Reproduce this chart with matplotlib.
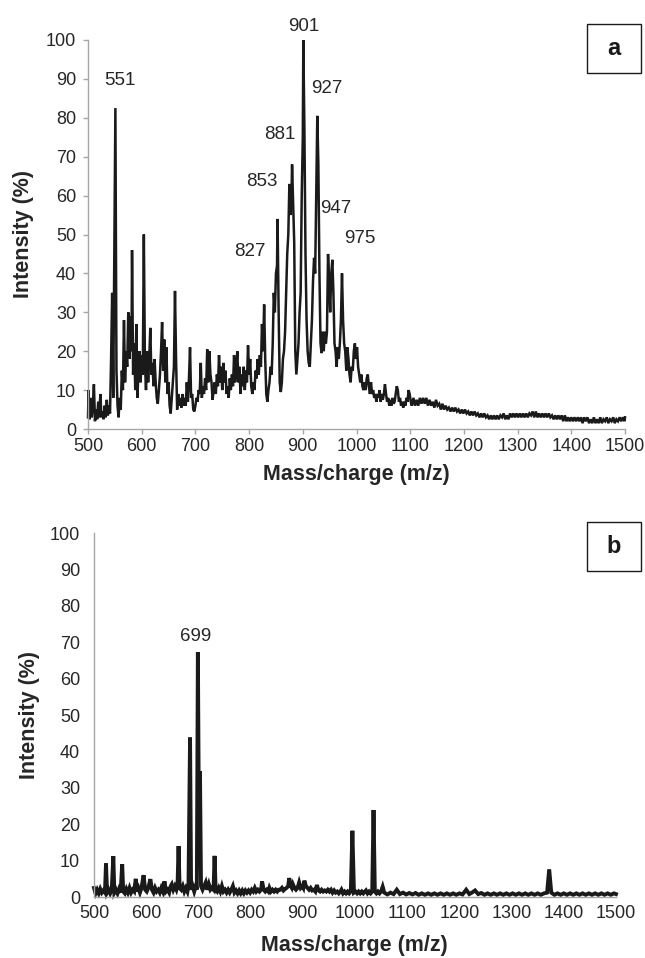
"""
Espectros de masas (a) y (b): intensidad relativa frente a m/z.
"""
import matplotlib
matplotlib.use("Agg")
import matplotlib.pyplot as plt
from matplotlib.patches import Rectangle

plt.rcParams["font.family"] = ["Liberation Sans", "DejaVu Sans"]

# --- datos: (m/z, intensidad %) ---
espectro_a = [
    (500, 3), (501, 10), (503, 2.5), (505, 8), (507, 3), (509, 6), (511, 11.5), (513, 2),
    (515, 5), (517, 2.5), (519, 7), (521, 3), (523, 9), (525, 3), (527, 4.5), (529, 2.5),
    (531, 6), (533, 3), (535, 7.5), (537, 3.5), (539, 6), (541, 4), (543, 18), (545, 35),
    (547, 8), (549, 45), (551, 82.5), (553, 15), (555, 6), (557, 3), (559, 8), (561, 5),
    (563, 15), (565, 10), (567, 28), (569, 12), (571, 20), (573, 16), (575, 30), (577, 18),
    (579, 29), (581, 20), (582, 46), (584, 14), (586, 22), (588, 10), (590, 27), (592, 8),
    (594, 15), (596, 20), (598, 12), (600, 19), (602, 14), (604, 50), (606, 17), (608, 10),
    (610, 20), (612, 12), (614, 18), (616, 26), (618, 14), (620, 17), (622, 11), (624, 18),
    (626, 12), (628, 8), (630, 6.5), (632, 10), (634, 14), (636, 20), (638, 27.5), (640, 15),
    (642, 23), (644, 12), (646, 21), (648, 9), (650, 12), (652, 6), (654, 4), (656, 8),
    (658, 12), (660, 16), (662, 35.5), (664, 18), (666, 5), (668, 9), (670, 6), (672, 8),
    (674, 5.5), (676, 9), (678, 6), (680, 8), (682, 6), (684, 12), (686, 7), (688, 13),
    (690, 21), (692, 8), (694, 9), (696, 5), (698, 4.5), (700, 6), (702, 8), (704, 7),
    (706, 10), (708, 9), (710, 17), (712, 8), (714, 11), (716, 9), (718, 13), (720, 10),
    (722, 20.5), (724, 12), (726, 20), (728, 14), (730, 12), (732, 7.5), (734, 10), (736, 12),
    (738, 9), (740, 14), (742, 11), (744, 19), (746, 12), (748, 16), (750, 10), (752, 17),
    (754, 12), (756, 15), (758, 9), (760, 11), (762, 8), (764, 13), (766, 10), (768, 14),
    (770, 11), (772, 19), (774, 12), (776, 15), (778, 20), (780, 12), (782, 16), (784, 9),
    (786, 14), (788, 11), (790, 16), (792, 10), (794, 15), (796, 12), (798, 21.5), (800, 14),
    (802, 18), (804, 11), (806, 9), (808, 12), (810, 10), (812, 15), (814, 13), (816, 18),
    (818, 14), (820, 19), (822, 16), (824, 27), (826, 20), (828, 32), (830, 18), (832, 9),
    (834, 7), (836, 10), (838, 12), (840, 16), (842, 14), (844, 22), (846, 35), (848, 30),
    (850, 40), (852, 42), (853, 54), (855, 30), (857, 12), (859, 9.5), (861, 12), (863, 18),
    (865, 20), (867, 25), (869, 35), (871, 45), (873, 50), (875, 63), (877, 55), (879, 60),
    (880, 68), (882, 58), (884, 48), (886, 20), (888, 14), (890, 18), (892, 22), (894, 30),
    (896, 35), (898, 60), (900, 75), (901, 100), (903, 77), (905, 45), (907, 28), (909, 20),
    (911, 17), (913, 16), (915, 22), (917, 28), (919, 38), (921, 44), (923, 40), (925, 60),
    (927, 80.5), (929, 68), (931, 40), (933, 22), (935, 19.5), (937, 25), (939, 20), (941, 25),
    (943, 22), (945, 25), (947, 45), (949, 38), (951, 30), (953, 40), (955, 43.5), (957, 35),
    (959, 22), (961, 20), (963, 16), (965, 21), (967, 18), (969, 22), (971, 28), (973, 40),
    (975, 28), (977, 22), (979, 20), (981, 15), (983, 21), (985, 18), (987, 14), (989, 12),
    (991, 16), (993, 15), (995, 20), (997, 22), (999, 18), (1001, 21), (1003, 16), (1005, 14),
    (1007, 12), (1009, 14), (1011, 11), (1013, 10), (1015, 12), (1017, 10), (1019, 13), (1021, 14),
    (1023, 11), (1025, 9), (1027, 12), (1029, 9), (1031, 10), (1033, 8), (1035, 9), (1037, 7),
    (1039, 9), (1041, 8), (1043, 10), (1045, 7), (1047, 9), (1049, 7.5), (1051, 9), (1053, 11.5),
    (1055, 9), (1057, 7), (1059, 8), (1061, 6), (1063, 7.5), (1065, 6), (1067, 8), (1069, 6.5),
    (1071, 7), (1073, 9), (1075, 11), (1077, 10), (1079, 7), (1081, 8), (1083, 6), (1085, 7),
    (1087, 5.5), (1089, 7), (1091, 6), (1093, 8), (1095, 7), (1097, 10), (1099, 9), (1101, 7),
    (1103, 6), (1106, 8), (1109, 6), (1112, 7.5), (1115, 6), (1118, 8), (1121, 6.5), (1124, 8),
    (1127, 6.5), (1130, 8), (1133, 6), (1136, 7.5), (1139, 6), (1142, 7), (1145, 5.5), (1148, 7.5),
    (1151, 6), (1154, 6.5), (1157, 5), (1160, 6.5), (1163, 5), (1166, 6), (1169, 5), (1172, 5.5),
    (1175, 4.5), (1178, 5.5), (1181, 4.5), (1184, 5.5), (1187, 4.5), (1190, 5), (1193, 4), (1196, 5),
    (1199, 4), (1202, 5), (1205, 4), (1208, 4.5), (1211, 3.5), (1214, 4.5), (1217, 3.5), (1220, 4.5),
    (1223, 3.5), (1226, 4), (1229, 3), (1232, 4), (1235, 3), (1238, 4), (1241, 3), (1244, 3.5),
    (1247, 2.5), (1250, 3.5), (1253, 2.5), (1256, 3.5), (1259, 2.5), (1262, 3.5), (1265, 2.5), (1268, 3.5),
    (1271, 3), (1274, 4), (1277, 2.5), (1280, 3.5), (1283, 2.5), (1286, 4), (1289, 3), (1292, 4),
    (1295, 3), (1298, 4), (1301, 3), (1304, 4), (1307, 3), (1310, 4), (1313, 3), (1316, 4),
    (1319, 3), (1322, 4), (1325, 3.5), (1328, 4.5), (1331, 3), (1334, 4.5), (1337, 3), (1340, 4),
    (1343, 3), (1346, 4), (1349, 3), (1352, 4), (1355, 3), (1358, 4), (1361, 3), (1364, 3.5),
    (1367, 2.5), (1370, 3.5), (1373, 2.5), (1376, 3.5), (1379, 2.5), (1382, 3.5), (1385, 2), (1388, 3.5),
    (1391, 2), (1394, 3), (1397, 2), (1400, 3), (1403, 2), (1406, 3), (1409, 2), (1412, 3),
    (1415, 2), (1418, 3), (1421, 1.5), (1424, 3), (1427, 2), (1430, 3), (1433, 1.5), (1436, 2.5),
    (1439, 1.5), (1442, 3), (1445, 1.5), (1448, 2.5), (1451, 1.5), (1454, 3), (1457, 1.5), (1460, 2.5),
    (1463, 2), (1466, 3), (1469, 1.5), (1472, 2.5), (1475, 2), (1478, 3), (1481, 1.5), (1484, 2.5),
    (1487, 2), (1490, 3), (1493, 2), (1496, 3), (1499, 2), (1500, 3),
]

espectro_b = [
    (500, 2.5), (503, 1.0), (506, 2.0), (509, 1.0), (512, 2.2), (515, 1.2), (518, 1.8), (521, 1.2),
    (523, 9.2), (525, 1.2), (528, 2.0), (531, 1.0), (534, 2.0), (537, 11.2), (539, 1.2), (542, 2.0),
    (545, 1.0), (548, 2.2), (551, 1.2), (554, 9.0), (556, 1.5), (559, 1.0), (562, 2.2), (565, 1.2),
    (568, 2.5), (571, 1.2), (574, 2.0), (577, 1.5), (580, 5.0), (582, 1.5), (585, 2.5), (588, 1.2),
    (591, 2.5), (595, 6.0), (598, 2.0), (601, 1.5), (604, 2.5), (608, 4.9), (611, 2.0), (614, 1.2),
    (617, 2.5), (620, 1.5), (623, 2.0), (626, 1.2), (629, 2.5), (632, 1.5), (635, 4.3), (638, 1.5),
    (641, 2.0), (644, 1.2), (647, 3.0), (649, 3.5), (652, 2.0), (655, 3.0), (658, 2.0), (660, 3.0),
    (662, 14.0), (664, 2.5), (667, 2.0), (670, 3.0), (673, 1.5), (676, 2.5), (679, 1.5), (681, 3.0),
    (684, 43.8), (686, 2.0), (689, 3.0), (692, 1.5), (695, 3.0), (697, 2.0), (699, 67.2), (701, 20.0),
    (703, 34.6), (705, 3.0), (708, 2.0), (711, 3.0), (714, 4.0), (717, 2.0), (720, 3.5), (723, 2.0),
    (726, 2.5), (729, 2.0), (731, 11.3), (733, 2.0), (736, 1.5), (739, 2.5), (742, 1.5), (745, 3.0),
    (748, 1.5), (751, 2.0), (754, 1.2), (757, 2.0), (760, 1.2), (763, 2.0), (766, 3.0), (769, 1.2),
    (772, 1.8), (775, 1.0), (778, 1.8), (781, 1.0), (784, 1.8), (787, 1.0), (790, 1.8), (793, 1.2),
    (796, 1.8), (799, 1.2), (802, 2.0), (805, 1.5), (808, 2.5), (811, 1.5), (814, 2.0), (817, 1.5),
    (820, 2.0), (822, 4.3), (825, 2.0), (828, 1.5), (831, 2.0), (834, 1.5), (836, 2.5), (839, 1.5),
    (842, 2.0), (845, 1.5), (848, 2.0), (851, 1.5), (854, 2.0), (857, 2.0), (860, 2.5), (863, 1.8),
    (866, 2.2), (869, 2.5), (872, 3.0), (874, 5.2), (877, 3.0), (879, 2.5), (881, 3.5), (884, 2.5),
    (887, 2.0), (890, 2.5), (893, 4.0), (896, 2.5), (899, 3.0), (901, 2.5), (903, 4.5), (906, 3.0),
    (909, 2.5), (912, 2.0), (915, 2.5), (918, 1.8), (921, 2.0), (924, 1.5), (927, 3.3), (930, 1.8),
    (933, 1.5), (936, 2.0), (939, 1.5), (942, 1.8), (945, 1.5), (948, 2.0), (951, 1.5), (954, 2.0),
    (957, 1.2), (960, 1.8), (963, 1.2), (966, 1.5), (969, 1.0), (972, 1.5), (974, 2.0), (977, 1.0),
    (980, 1.5), (983, 1.0), (986, 1.5), (989, 1.0), (992, 1.5), (995, 18.2), (998, 1.2), (1001, 1.5),
    (1004, 1.0), (1007, 1.5), (1010, 1.0), (1013, 1.5), (1016, 1.0), (1019, 1.5), (1021, 1.8), (1024, 1.0),
    (1027, 1.5), (1030, 1.0), (1033, 1.5), (1035.5, 23.9), (1038, 1.5), (1041, 1.0), (1044, 1.5), (1047, 1.0),
    (1050, 1.5), (1053, 2.8), (1056, 1.2), (1062, 0.7), (1068, 1.2), (1074, 0.8), (1080, 2.0), (1086, 0.8),
    (1092, 1.2), (1098, 0.7), (1104, 1.1), (1110, 0.7), (1116, 1.1), (1122, 0.6), (1128, 1.0), (1134, 0.6),
    (1140, 1.0), (1146, 0.6), (1152, 1.0), (1158, 0.6), (1164, 1.0), (1170, 0.6), (1176, 1.0), (1182, 0.6),
    (1188, 1.0), (1194, 0.6), (1200, 1.0), (1206, 0.7), (1213, 2.0), (1219, 0.8), (1224, 1.2), (1230, 1.8),
    (1236, 0.8), (1242, 1.1), (1248, 0.6), (1254, 1.0), (1260, 0.6), (1266, 1.0), (1272, 0.6), (1278, 1.0),
    (1284, 0.6), (1290, 1.0), (1296, 0.6), (1302, 1.0), (1308, 0.6), (1314, 1.0), (1320, 0.6), (1326, 1.0),
    (1332, 0.6), (1338, 1.0), (1344, 0.6), (1350, 1.0), (1356, 0.6), (1362, 1.0), (1368, 1.2), (1372, 7.6),
    (1376, 1.2), (1382, 0.6), (1388, 1.0), (1394, 0.6), (1400, 1.0), (1406, 0.6), (1412, 1.0), (1418, 0.6),
    (1424, 1.0), (1430, 0.6), (1436, 1.0), (1442, 0.6), (1448, 1.0), (1454, 0.6), (1460, 1.0), (1466, 0.6),
    (1472, 1.0), (1478, 0.6), (1484, 1.0), (1490, 0.6), (1496, 1.0), (1500, 0.8),
]

# etiquetas de picos: (texto, m/z, intensidad donde va el texto)
picos_a = [("551", 559, 89.5), ("901", 902, 103.5), ("927", 944, 87.5), ("881", 858, 75.8),
           ("853", 824, 63.7), ("947", 961, 56.6), ("827", 801, 45.7), ("975", 1006, 49.1)]
picos_b = [("699", 694, 71.6)]

x_ticks = [500, 600, 700, 800, 900, 1000, 1100, 1200, 1300, 1400, 1500]
y_ticks = [0, 10, 20, 30, 40, 50, 60, 70, 80, 90, 100]

GRIS = "#a6a6a6"
NEGRO = "#1a1a1a"
TEXTO = "#262626"

W, H = 645, 958
fig = plt.figure(figsize=(W / 100, H / 100), dpi=100)


def px_axes(x0, x1, y_top, y_bot):
    return [x0 / W, 1 - y_bot / H, (x1 - x0) / W, (y_bot - y_top) / H]


def dibujar(ax, espectro, picos, lw, con_ticks, pad_y, pad_x):
    mz = [p[0] for p in espectro]
    inten = [p[1] for p in espectro]
    ax.plot(mz, inten, color=NEGRO, lw=lw, solid_joinstyle="miter", clip_on=False)
    ax.set_xlim(500, 1500)
    ax.set_ylim(0, 100)
    ax.set_xticks(x_ticks)
    ax.set_yticks(y_ticks)
    for s in ["top", "right"]:
        ax.spines[s].set_visible(False)
    for s in ["left", "bottom"]:
        ax.spines[s].set_color(GRIS)
        ax.spines[s].set_linewidth(1.0)
    largo = 3.6 if con_ticks else 0
    ax.tick_params(axis="y", direction="out", length=largo, width=1.0, color=GRIS,
                   labelsize=13, labelcolor=TEXTO, pad=pad_y)
    ax.tick_params(axis="x", direction="out", length=largo, width=1.0, color=GRIS,
                   labelsize=13, labelcolor=TEXTO, pad=pad_x)
    for texto, x, y in picos:
        ax.text(x, y, texto, ha="center", va="center", fontsize=13.5, color=TEXTO, clip_on=False)


ax_a = fig.add_axes(px_axes(88, 625, 40, 429))
dibujar(ax_a, espectro_a, picos_a, lw=1.8, con_ticks=True, pad_y=5, pad_x=3)

ax_b = fig.add_axes(px_axes(94, 616, 533, 897))
dibujar(ax_b, espectro_b, picos_b, lw=2.8, con_ticks=False, pad_y=10, pad_x=6)

# titulos de ejes
fig.text(24 / W, 1 - 234 / H, "Intensity (%)", rotation=90, ha="center", va="center",
         fontsize=15.5, fontweight="bold", color=TEXTO)
fig.text(30 / W, 1 - 715 / H, "Intensity (%)", rotation=90, ha="center", va="center",
         fontsize=15.5, fontweight="bold", color=TEXTO)
fig.text(356 / W, 1 - 474 / H, "Mass/charge (m/z)", ha="center", va="center",
         fontsize=15.5, fontweight="bold", color=TEXTO)
fig.text(354 / W, 1 - 945 / H, "Mass/charge (m/z)", ha="center", va="center",
         fontsize=15.5, fontweight="bold", color=TEXTO)

# recuadros con la letra del panel
for letra, y_top in [("a", 24), ("b", 522)]:
    x0, x1, alto = 587, 641, 49
    fig.add_artist(Rectangle((x0 / W, 1 - (y_top + alto) / H), (x1 - x0) / W, alto / H,
                             transform=fig.transFigure, fill=False, ec=NEGRO, lw=1.0))
    fig.text((x0 + x1) / 2 / W, 1 - (y_top + alto / 2) / H, letra, ha="center", va="center",
             fontsize=17, fontweight="bold", color=NEGRO)

fig.savefig("out.png", dpi=100)
